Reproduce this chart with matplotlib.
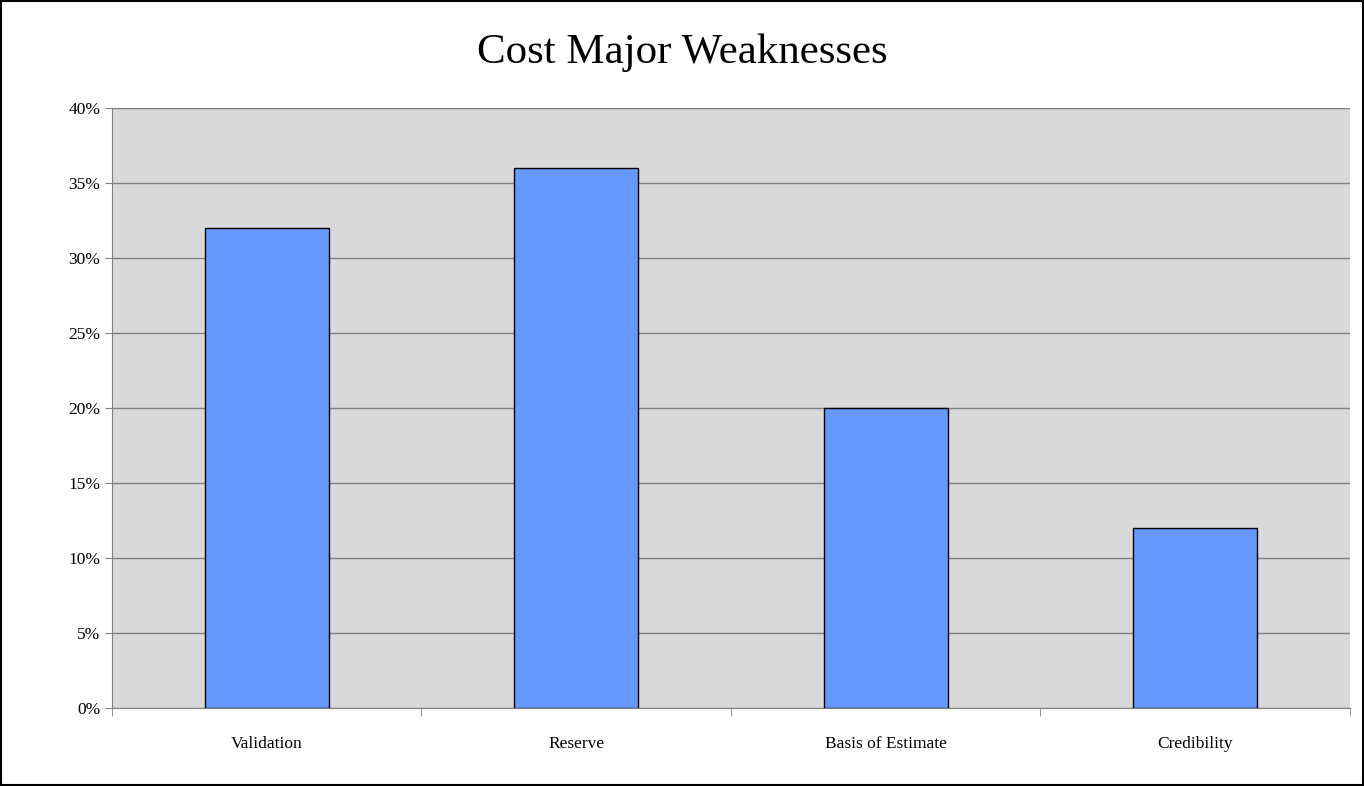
import matplotlib.pyplot as plt
from matplotlib.patches import Rectangle
import numpy as np

categories = ['Validation', 'Reserve', 'Basis of Estimate', 'Credibility']
values = [0.32, 0.36, 0.20, 0.12]

plt.rcParams['font.family'] = ['Liberation Serif', 'DejaVu Serif']

fig = plt.figure(figsize=(13.64, 7.86), dpi=100)
ax = fig.add_axes([0.0821, 0.0992, 0.9076, 0.7634])
ax.set_facecolor('#D9D9D9')

x = np.arange(len(categories))
ax.bar(x, values, width=0.4, color='#6699FF', edgecolor='black', linewidth=1, zorder=3)

ax.set_xlim(-0.5, len(categories) - 0.5)
ax.set_ylim(0, 0.40)
yt = np.arange(0, 0.41, 0.05)
ax.set_yticks(yt)
ax.set_yticklabels([f'{int(round(v * 100))}%' for v in yt], fontsize=12.5)
ax.grid(axis='y', color='#808080', linewidth=1, zorder=0)

ax.set_xticks(x)
ax.set_xticklabels(categories, fontsize=12.5)
ax.set_xticks(np.arange(-0.5, len(categories), 1), minor=True)
ax.tick_params(axis='x', which='major', length=0, pad=20)
ax.tick_params(axis='x', which='minor', length=6, color='#808080')
ax.tick_params(axis='y', length=5, color='#808080')

for side in ['top', 'right']:
    ax.spines[side].set_visible(False)
for side in ['left', 'bottom']:
    ax.spines[side].set_color('#808080')

fig.text(0.5, 0.933, 'Cost Major Weaknesses', ha='center', va='center', fontsize=31)
fig.patches.append(Rectangle((0.001, 0.001), 0.998, 0.998, transform=fig.transFigure,
                             fill=False, edgecolor='black', linewidth=1.5))

fig.savefig('out.png', dpi=100)
